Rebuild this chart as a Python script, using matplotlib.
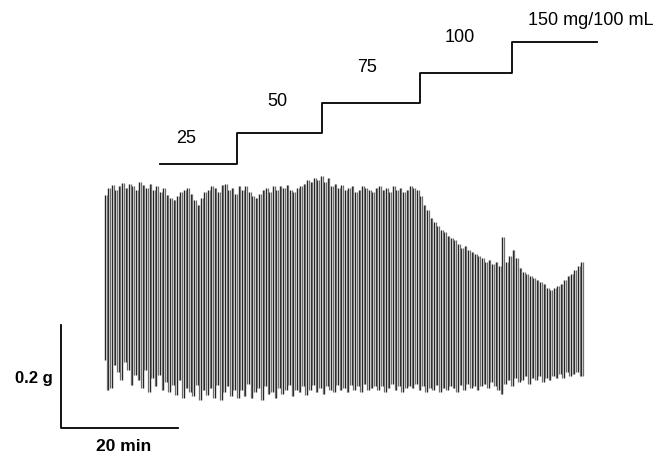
import numpy as np
import matplotlib
matplotlib.use("Agg")
import matplotlib.pyplot as plt

plt.rcParams["font.family"] = ["Liberation Sans", "DejaVu Sans"]

# peak tension of each contraction (g)
peaks = [
    0.452, 0.466, 0.472, 0.462, 0.470, 0.476, 0.466, 0.474, 0.470, 0.462,
    0.478, 0.472, 0.466, 0.474, 0.462, 0.470, 0.458, 0.466, 0.452, 0.447,
    0.443, 0.450, 0.458, 0.462, 0.466, 0.454, 0.443, 0.433, 0.447, 0.458,
    0.462, 0.470, 0.466, 0.458, 0.472, 0.474, 0.462, 0.466, 0.454, 0.470,
    0.462, 0.470, 0.458, 0.450, 0.447, 0.454, 0.462, 0.466, 0.458, 0.470,
    0.462, 0.470, 0.466, 0.472, 0.462, 0.458, 0.466, 0.470, 0.474, 0.482,
    0.478, 0.485, 0.482, 0.489, 0.478, 0.485, 0.470, 0.474, 0.466, 0.472,
    0.462, 0.466, 0.470, 0.458, 0.462, 0.470, 0.466, 0.462, 0.458, 0.466,
    0.470, 0.462, 0.466, 0.458, 0.470, 0.462, 0.466, 0.458, 0.462, 0.470,
    0.466, 0.462, 0.450, 0.433, 0.423, 0.408, 0.400, 0.392, 0.384, 0.381,
    0.373, 0.369, 0.365, 0.357, 0.350, 0.353, 0.346, 0.342, 0.338, 0.334,
    0.330, 0.322, 0.326, 0.318, 0.322, 0.315, 0.371, 0.322, 0.334, 0.346,
    0.330, 0.311, 0.303, 0.299, 0.295, 0.291, 0.287, 0.283, 0.280, 0.272,
    0.268, 0.272, 0.276, 0.280, 0.287, 0.295, 0.299, 0.307, 0.315, 0.322,
]
# trough between contractions (g)
troughs = [
    0.132, 0.074, 0.078, 0.122, 0.109, 0.093, 0.128, 0.113, 0.083, 0.103,
    0.093, 0.078, 0.113, 0.070, 0.097, 0.082, 0.103, 0.074, 0.089, 0.070,
    0.083, 0.064, 0.093, 0.058, 0.078, 0.070, 0.062, 0.083, 0.054, 0.074,
    0.064, 0.078, 0.058, 0.083, 0.054, 0.070, 0.082, 0.062, 0.074, 0.058,
    0.074, 0.062, 0.085, 0.058, 0.070, 0.078, 0.054, 0.082, 0.066, 0.070,
    0.058, 0.078, 0.066, 0.074, 0.083, 0.062, 0.074, 0.070, 0.082, 0.064,
    0.074, 0.083, 0.070, 0.078, 0.066, 0.082, 0.074, 0.070, 0.083, 0.074,
    0.078, 0.070, 0.083, 0.074, 0.082, 0.070, 0.085, 0.074, 0.078, 0.082,
    0.074, 0.082, 0.070, 0.078, 0.085, 0.074, 0.082, 0.070, 0.078, 0.082,
    0.078, 0.085, 0.074, 0.082, 0.070, 0.078, 0.074, 0.083, 0.070, 0.078,
    0.074, 0.082, 0.078, 0.070, 0.083, 0.074, 0.085, 0.078, 0.082, 0.074,
    0.082, 0.085, 0.078, 0.089, 0.082, 0.074, 0.066, 0.085, 0.093, 0.082,
    0.097, 0.089, 0.093, 0.101, 0.085, 0.097, 0.093, 0.101, 0.089, 0.097,
    0.093, 0.101, 0.097, 0.105, 0.097, 0.109, 0.101, 0.105, 0.109, 0.101,
]
duration = 82.0  # min, length of the recording

conc_labels = ["25", "50", "75", "100", "150 mg/100 mL"]
step_times = [9.4, 22.6, 37.1, 53.8, 69.6, 84.1]  # min, start of each concentration

fig = plt.figure(figsize=(6.57, 4.59), dpi=100)
ax = fig.add_axes([0, 0, 1, 1])
ax.set_xlim(-17.95, 94.36)
ax.set_ylim(-0.060, 0.831)
ax.axis("off")

# trace: each contraction rises from its trough to the peak,
# then relaxes down to the next trough
n = len(peaks)
period = duration / n
t = np.arange(n) * period
pk = np.array(peaks)
tr = np.array(troughs)
next_tr = np.append(tr[1:], tr[-1])
ax.vlines(t, tr, pk, color="#262626", lw=1.0)
ax.vlines(t + period / 2, next_tr, pk, color="#6e6e6e", lw=0.9)

# concentration staircase
base, rise = 0.513, 0.059
sx, sy = [], []
for i in range(len(conc_labels)):
    level = base + i * rise
    sx += [step_times[i], step_times[i + 1]]
    sy += [level, level]
ax.plot(sx, sy, color="black", lw=1.3)
label_pos = [(13.8, 0.563), (29.4, 0.633), (44.8, 0.699), (60.7, 0.759), (83.0, 0.792)]
for lab, (lx, ly) in zip(conc_labels, label_pos):
    ax.text(lx, ly, lab, ha="center", va="center", fontsize=13)

# scale bars
ax.plot([-7.52, -7.52, 12.48], [0.2, 0.0, 0.0], color="black", lw=1.3)
ax.text(-12.1, 0.097, "0.2 g", ha="center", va="center", fontsize=12, fontweight="bold")
ax.text(3.1, -0.035, "20 min", ha="center", va="center", fontsize=12.5, fontweight="bold")

fig.savefig("out.png", dpi=100)
